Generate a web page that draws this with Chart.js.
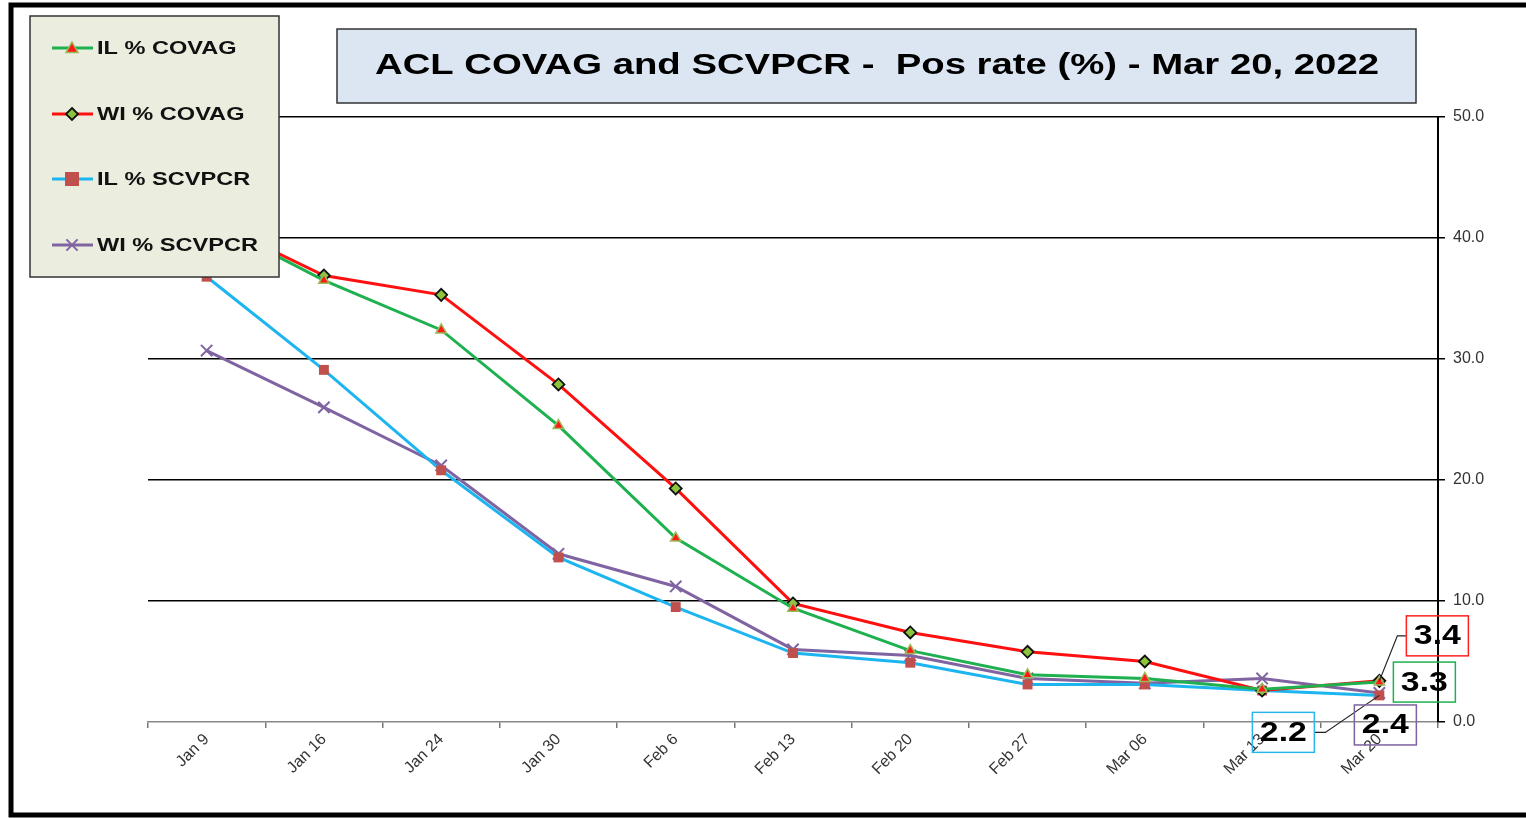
<!DOCTYPE html>
<html>
<head>
<meta charset="utf-8">
<title>ACL COVAG and SCVPCR - Pos rate</title>
<script src="https://cdn.jsdelivr.net/npm/chart.js@4.4.1/dist/chart.umd.min.js"></script>
<style>
  html, body { margin: 0; padding: 0; background: #fff; }
  canvas { display: block; }
</style>
</head>
<body>
<canvas id="posRateChart" width="1526" height="818"></canvas>
<script>
// week labels
const weeks = ['Jan 9', 'Jan 16', 'Jan 24', 'Jan 30', 'Feb 6', 'Feb 13', 'Feb 20', 'Feb 27', 'Mar 06', 'Mar 13', 'Mar 20'];

// positivity rates (%)
const ilCovag   = [41.5, 36.5, 32.4, 24.5, 15.2, 9.4, 5.9, 3.9, 3.6, 2.7, 3.3];
const wiCovag   = [41.6, 36.9, 35.3, 27.9, 19.3, 9.8, 7.4, 5.8, 5.0, 2.6, 3.4];
const ilScvpcr  = [36.8, 29.1, 20.8, 13.6, 9.5, 5.7, 4.9, 3.1, 3.1, 2.6, 2.2];
const wiScvpcr  = [30.7, 26.0, 21.2, 13.9, 11.2, 6.0, 5.5, 3.6, 3.2, 3.6, 2.4];

const yTicks = [0, 10, 20, 30, 40, 50];

const titleText = 'ACL COVAG and SCVPCR -  Pos rate (%) - Mar 20, 2022';

const FONT = '"Liberation Sans", Arial, sans-serif';

// box offsets for the last-point labels (style only)
const labelStyle = [
    { dx: 45,  dy: 0,   color: '#1fb04f', leader: null },
    { dx: 58,  dy: -45, color: '#ff2020', leader: 'up' },
    { dx: -96, dy: 37,  color: '#29b6ea', leader: 'left' },
    { dx: 6,   dy: 32,  color: '#7c62a0', leader: null }
];

const ctx = document.getElementById('posRateChart').getContext('2d');

// draw text squeezed/stretched horizontally to a given width
function stretchText(c, text, x, y, font, width) {
    c.save();
    c.font = font;
    const w = c.measureText(text).width;
    c.translate(x, y);
    c.scale(width / w, 1);
    c.textAlign = 'center';
    c.fillText(text, 0, 0);
    c.restore();
}

const framePlugin = {
    id: 'frame',
    beforeDraw(chart) {
        const c = chart.ctx;
        c.save();
        c.fillStyle = '#fff';
        c.fillRect(0, 0, chart.width, chart.height);
        c.restore();
    },
    afterDatasetsDraw(chart) {
        const c = chart.ctx;
        c.save();

        // outer frame
        c.strokeStyle = '#000';
        c.lineWidth = 5;
        c.strokeRect(11, 5, 1530, 810);

        // title box
        c.fillStyle = '#dce6f2';
        c.fillRect(337, 29, 1079, 74);
        c.strokeStyle = '#333';
        c.lineWidth = 1.5;
        c.strokeRect(337, 29, 1079, 74);
        c.fillStyle = '#000';
        c.textBaseline = 'middle';
        stretchText(c, titleText, 877, 66, 'bold 30px ' + FONT, 1004);

        // legend box
        c.fillStyle = '#ebeedf';
        c.fillRect(30, 16, 249, 261);
        c.strokeStyle = '#333';
        c.lineWidth = 1.5;
        c.strokeRect(30, 16, 249, 261);
        const rows = [48, 114, 179, 245];
        const legFont = 'bold 19px ' + FONT;
        c.font = legFont;
        const sx = 161 / c.measureText('WI % SCVPCR').width;
        chart.data.datasets.forEach((ds, i) => {
            const y = rows[i];
            c.strokeStyle = ds.borderColor;
            c.lineWidth = 3;
            c.beginPath();
            c.moveTo(52, y);
            c.lineTo(93, y);
            c.stroke();
            drawMarker(c, ds, 72, y);
            c.fillStyle = '#111';
            c.font = legFont;
            const tw = c.measureText(ds.label).width * sx;
            stretchText(c, ds.label, 97 + tw / 2, y + 1, legFont, tw);
        });

        // last point labels
        chart.data.datasets.forEach((ds, i) => {
            const pt = chart.getDatasetMeta(i).data[ds.data.length - 1];
            const st = labelStyle[i];
            const cx = pt.x + st.dx, cy = pt.y + st.dy;
            const bw = 62, bh = 40;
            c.strokeStyle = '#222';
            c.lineWidth = 1.2;
            if (st.leader === 'up') {
                c.beginPath();
                c.moveTo(pt.x, pt.y);
                c.lineTo(pt.x + 18, cy);
                c.lineTo(cx - bw / 2, cy);
                c.stroke();
            } else if (st.leader === 'left') {
                c.beginPath();
                c.moveTo(pt.x, pt.y);
                c.lineTo(cx + bw / 2 + 11, cy);
                c.lineTo(cx + bw / 2, cy);
                c.stroke();
            }
            c.strokeStyle = st.color;
            c.lineWidth = 1.5;
            c.strokeRect(cx - bw / 2, cy - bh / 2, bw, bh);
            c.fillStyle = '#000';
            stretchText(c, ds.data[ds.data.length - 1].toFixed(1), cx, cy + 1, 'bold 27px ' + FONT, 47);
        });
        c.restore();
    }
};

function drawMarker(c, ds, x, y) {
    c.save();
    c.fillStyle = ds.pointBackgroundColor;
    c.strokeStyle = ds.pointBorderColor;
    c.lineWidth = ds.pointBorderWidth;
    const r = ds.pointRadius;
    c.beginPath();
    if (ds.pointStyle === 'triangle') {
        c.moveTo(x, y - r);
        c.lineTo(x + r, y + r * 0.75);
        c.lineTo(x - r, y + r * 0.75);
        c.closePath();
        c.fill(); c.stroke();
    } else if (ds.pointStyle === 'rectRot') {
        c.moveTo(x, y - r); c.lineTo(x + r, y); c.lineTo(x, y + r); c.lineTo(x - r, y);
        c.closePath();
        c.fill(); c.stroke();
    } else if (ds.pointStyle === 'rect') {
        c.rect(x - r, y - r, 2 * r, 2 * r);
        c.fill();
    } else {
        c.moveTo(x - r * 0.7, y - r * 0.7); c.lineTo(x + r * 0.7, y + r * 0.7);
        c.moveTo(x + r * 0.7, y - r * 0.7); c.lineTo(x - r * 0.7, y + r * 0.7);
        c.stroke();
    }
    c.restore();
}

new Chart(ctx, {
    type: 'line',
    data: {
        labels: weeks,
        datasets: [
            {
                label: 'IL % COVAG',
                data: ilCovag,
                borderColor: '#1fb04f',
                borderWidth: 3,
                pointStyle: 'triangle',
                pointRadius: 6,
                pointBackgroundColor: '#ff1a1a',
                pointBorderColor: '#9bbb59',
                pointBorderWidth: 1.5,
                tension: 0
            },
            {
                label: 'WI % COVAG',
                data: wiCovag,
                borderColor: '#ff1010',
                borderWidth: 3,
                pointStyle: 'rectRot',
                pointRadius: 6,
                pointBackgroundColor: '#8cc43c',
                pointBorderColor: '#111',
                pointBorderWidth: 1.8,
                tension: 0
            },
            {
                label: 'IL % SCVPCR',
                data: ilScvpcr,
                borderColor: '#1cb5f0',
                borderWidth: 3,
                pointStyle: 'rect',
                pointRadius: 7,
                pointBackgroundColor: '#c0504d',
                pointBorderColor: '#c0504d',
                pointBorderWidth: 0,
                tension: 0
            },
            {
                label: 'WI % SCVPCR',
                data: wiScvpcr,
                borderColor: '#8064a2',
                borderWidth: 3,
                pointStyle: 'crossRot',
                pointRadius: 8,
                pointBackgroundColor: '#8064a2',
                pointBorderColor: '#8064a2',
                pointBorderWidth: 2,
                tension: 0
            }
        ]
    },
    options: {
        responsive: false,
        animation: false,
        layout: { padding: { left: 148, top: 117, right: 0, bottom: 0 } },
        plugins: {
            legend: { display: false },
            title: { display: false },
            tooltip: { enabled: false }
        },
        scales: {
            x: {
                offset: true,
                grid: {
                    offset: true,
                    drawOnChartArea: false,
                    drawTicks: true,
                    tickLength: 6,
                    color: '#777',
                    lineWidth: 1.5
                },
                border: { color: '#888', width: 1.5 },
                ticks: {
                    maxRotation: 45,
                    minRotation: 45,
                    color: '#333',
                    padding: 2,
                    font: { family: FONT, size: 16 }
                },
                afterFit(scale) { scale.height = 96; }
            },
            y: {
                position: 'right',
                min: 0,
                max: 50,
                afterBuildTicks(scale) { scale.ticks = yTicks.map(v => ({ value: v })); },
                grid: {
                    color: c => (c.tick && c.tick.value === 0 ? 'rgba(0,0,0,0)' : '#000'),
                    tickColor: '#000',
                    lineWidth: 1.5,
                    tickLength: 7
                },
                border: { color: '#000', width: 2 },
                ticks: {
                    color: '#333',
                    padding: 8,
                    font: { family: FONT, size: 16 },
                    callback: v => Number(v).toFixed(1)
                },
                afterFit(scale) { scale.width = 88; }
            }
        }
    },
    plugins: [framePlugin]
});
</script>
</body>
</html>
